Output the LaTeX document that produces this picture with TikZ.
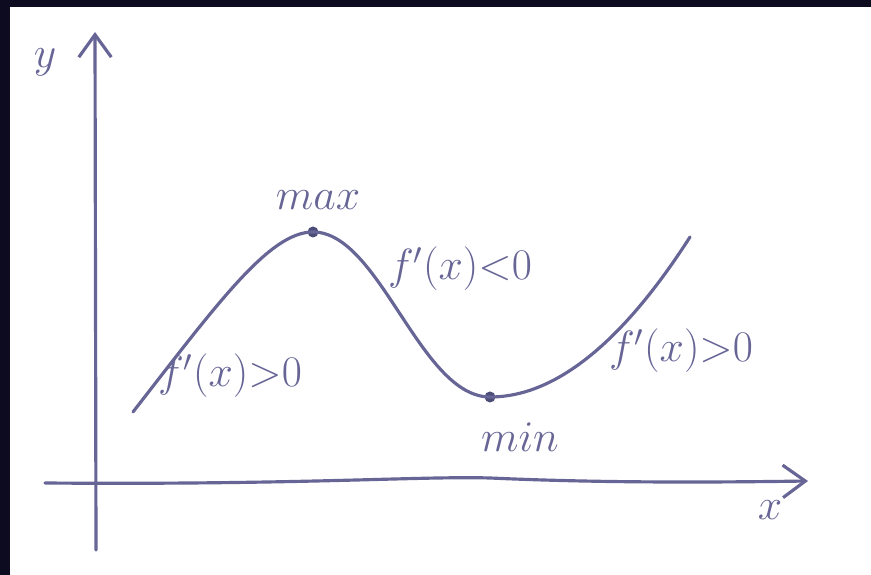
\documentclass[tikz,border=0pt]{standalone}
\usetikzlibrary{arrows.meta,positioning}

\definecolor{pen}{RGB}{102,101,150}
\definecolor{pendark}{RGB}{76,78,120}
\definecolor{frame}{RGB}{13,11,31}

\tikzset{
    pen line/.style={pen, line width=1.8pt, line cap=round, line join=round},
    axis arrow/.style={pen line, -{Straight Barb[length=4.5mm, width=6.5mm, line width=1.8pt]}},
    hand label/.style={pen, inner sep=1pt, font=\fontsize{24}{28}\selectfont},
    axis label/.style={pen, inner sep=1pt, font=\fontsize{32}{36}\selectfont},
    extremum/.style={circle, fill=pendark, inner sep=0pt, minimum size=2.2mm}
}

\begin{document}
\begin{tikzpicture}
    % --- frame and paper ---
    \fill[frame] (0,0) rectangle (17.42,11.5);
    \fill[white] (0.2,0) rectangle (17.42,11.36);
    \useasboundingbox (0,0) rectangle (17.42,11.5);

    % --- axes ---
    \coordinate (xstart) at (0.9,1.84);
    \coordinate (xend)   at (16.16,1.88);
    \coordinate (ystart) at (1.92,0.5);
    \coordinate (yend)   at (1.90,10.86);
    \draw[axis arrow] (xstart) .. controls (6,1.8) and (8.4,1.98) .. (9.8,1.94)
        .. controls (11.6,1.86) and (13.5,1.84) .. (xend);
    \draw[axis arrow] (ystart) -- (yend);
    \node[axis label] (ylabel) at (0.9,10.25) {$y$};
    \node[axis label] (xlabel) at (15.4,1.3) {$x$};

    % --- curve points ---
    \coordinate (start) at (2.66,3.26);
    \coordinate (end)   at (13.80,6.76);
    \node[extremum] (maxpt) at (6.26,6.86) {};
    \node[extremum] (minpt) at (9.80,3.56) {};

    % --- the graph of f ---
    \draw[pen line] (start) .. controls (4.4,5.5) and (5.4,6.86) .. (maxpt.center)
        .. controls (7.6,6.86) and (8.4,3.56) .. (minpt.center)
        .. controls (11.4,3.56) and (12.8,5.2) .. (end);

    % --- labels ---
    \node[hand label, above=0.3cm of maxpt, xshift=0.1cm] (maxlabel) {$max$};
    \node[hand label, below=0.35cm of minpt, xshift=0.6cm] (minlabel) {$min$};
    \node[hand label] (fdown)  at (9.2,6.12)  {$f'(x){<}0$};
    \node[hand label] (fupl)   at (4.6,3.98) {$f'(x){>}0$};
    \node[hand label] (fupr)   at (13.62,4.48) {$f'(x){>}0$};
\end{tikzpicture}
\end{document}
